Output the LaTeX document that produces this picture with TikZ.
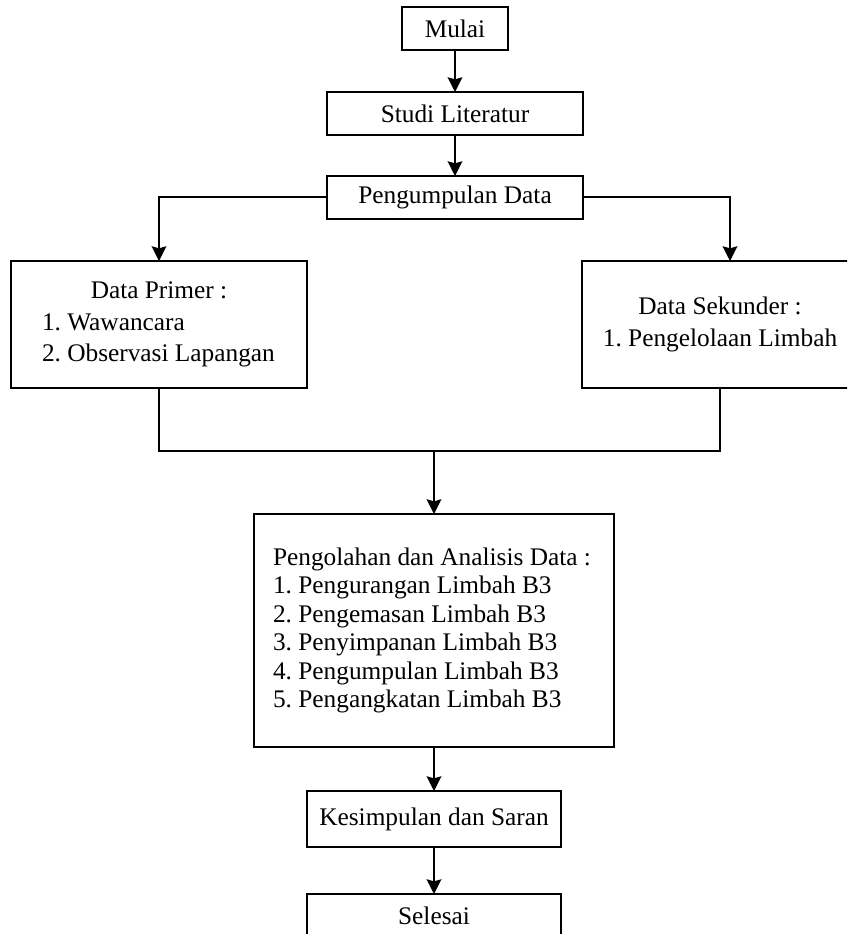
\documentclass[tikz,border=0pt]{standalone}
\usepackage{fontspec}
\setmainfont{Liberation Serif}
\usetikzlibrary{arrows.meta}
\frenchspacing
\begin{document}
\begin{tikzpicture}[x=0.75pt,y=-0.75pt,
  box/.style={draw, line width=1.5pt, rectangle, inner sep=0pt, outer sep=0pt,
    font=\fontsize{19}{21.4}\selectfont\frenchspacing},
  arr/.style={line width=1.5pt, -{Stealth[length=11pt,width=11pt,inset=1.5pt]}},
  ln/.style={line width=1.5pt}]
\useasboundingbox (0,0) rectangle (847,934);
\fill[white] (0,0) rectangle (847,934);
\clip (0,0) rectangle (847,934);

\node[box, minimum width=79.5pt, minimum height=32.25pt] (mulai) at (455,28.5) {Mulai};
\node[box, minimum width=192pt, minimum height=32.25pt] (studi) at (455,113.5) {Studi Literatur};
\node[box, minimum width=192pt, minimum height=32.25pt] (peng) at (455,197.5) {Pengumpulan Data};
\node[box, minimum width=222pt, minimum height=95.25pt, align=left,
  font=\fontsize{19}{23.6}\selectfont\frenchspacing] (prim) at (159,324.5)
  {\makebox[175.5pt][c]{Data Primer :}\\1. Wawancara\\2. Observasi Lapangan};
\node[box, minimum width=207pt, minimum height=95.25pt, align=center,
  font=\fontsize{19}{23.8}\selectfont\frenchspacing] (sek) at (720,324.5)
  {Data Sekunder :\\1. Pengelolaan Limbah};
\node[box, minimum width=270pt, minimum height=174.75pt, align=left,
  font=\fontsize{19}{21.4}\selectfont\frenchspacing] (olah) at (434,630.5)
  {\makebox[241.5pt][l]{Pengolahan dan Analisis Data :}\\1. Pengurangan Limbah B3\\2. Pengemasan Limbah B3\\3. Penyimpanan Limbah B3\\4. Pengumpulan Limbah B3\\5. Pengangkatan Limbah B3};
\node[box, minimum width=190.5pt, minimum height=42pt] (kes) at (434,819) {Kesimpulan dan Saran};
\node[box, minimum width=190.5pt, minimum height=32.25pt] (sel) at (434,915.5) {Selesai};

\draw[arr] (mulai) -- (studi);
\draw[arr] (studi) -- (peng);
\draw[arr] (peng.west) -| (prim.north);
\draw[arr] (peng.east) -| ([xshift=7.5pt]sek.north);
\coordinate (merge) at (434,451);
\draw[ln] (prim.south) -- (prim.south |- merge) -- (sek.south |- merge) -- (sek.south);
\draw[arr] (merge) -- (olah.north);
\draw[arr] (olah) -- (kes);
\draw[arr] (kes) -- (sel);
\end{tikzpicture}
\end{document}
